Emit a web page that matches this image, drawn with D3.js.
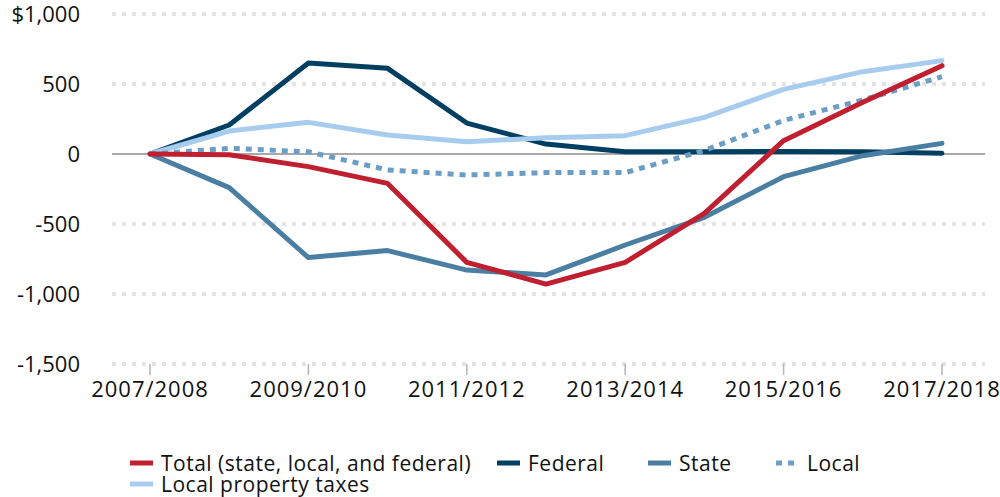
<!DOCTYPE html>
<html>
<head>
<meta charset="utf-8">
<script src="https://cdn.jsdelivr.net/npm/d3@7"></script>
<style>
  body { margin: 0; background: #fff; }
  svg text { font-family: "Open Sans", "Lato", sans-serif; fill: #111; }
</style>
</head>
<body>
<div id="chart"></div>
<script>
var years = ["2007/2008", "2008/2009", "2009/2010", "2010/2011", "2011/2012", "2012/2013",
             "2013/2014", "2014/2015", "2015/2016", "2016/2017", "2017/2018"];
var tickYears = ["2007/2008", "2009/2010", "2011/2012", "2013/2014", "2015/2016", "2017/2018"];
var yTicks = [1000, 500, 0, -500, -1000, -1500];

var total    = [0, -5, -90, -210, -774, -929, -774, -424, 95, 370, 631];
var federal  = [0, 207, 650, 612, 221, 71, 16, 16, 18, 16, 5];
var state    = [0, -240, -740, -690, -829, -864, -650, -452, -162, -12, 76];
var local    = [0, 40, 16, -114, -150, -133, -133, 25, 240, 386, 552];
var property = [0, 164, 226, 136, 88, 116, 131, 262, 462, 588, 667];

var seriesNames = ["Total (state, local, and federal)", "Federal", "State", "Local", "Local property taxes"];
var seriesColors = ["#c01f30", "#003f62", "#4a7fa3", "#6a9ec6", "#a8ccee"];

var width = 1000, height = 497;

var svg = d3.select("#chart").append("svg")
  .attr("width", width)
  .attr("height", height);

var x = d3.scalePoint()
  .domain(years)
  .range([150, 942]);

var y = d3.scaleLinear()
  .domain([-1500, 1000])
  .range([364, 14]);

// gridlines
svg.append("g")
  .selectAll("line")
  .data(yTicks.filter(function(d) { return d !== 0; }))
  .enter()
  .append("line")
    .attr("x1", 112)
    .attr("x2", 985)
    .attr("y1", function(d) { return y(d); })
    .attr("y2", function(d) { return y(d); })
    .attr("stroke", "#e3e3e3")
    .attr("stroke-width", 4)
    .attr("stroke-dasharray", "4,6");

// zero line
svg.append("line")
  .attr("x1", 112)
  .attr("x2", 985)
  .attr("y1", y(0))
  .attr("y2", y(0))
  .attr("stroke", "#8c8c8c")
  .attr("stroke-width", 1.5);

// y labels (plain hyphen like the original)
svg.append("g")
  .selectAll("text")
  .data(yTicks)
  .enter()
  .append("text")
    .attr("x", 80)
    .attr("y", function(d) { return y(d); })
    .attr("dy", "0.36em")
    .attr("text-anchor", "end")
    .style("font-size", "22px")
    .text(function(d) {
      var s = d3.format(",")(Math.abs(d));
      if (d < 0) s = "-" + s;
      return d === 1000 ? "$" + s : s;
    });

// x axis ticks + labels
var xAxis = svg.append("g");
xAxis.selectAll("line")
  .data(tickYears)
  .enter()
  .append("line")
    .attr("x1", function(d) { return x(d); })
    .attr("x2", function(d) { return x(d); })
    .attr("y1", 364)
    .attr("y2", 375)
    .attr("stroke", "#b5b5b5")
    .attr("stroke-width", 1.5);

xAxis.selectAll("text")
  .data(tickYears)
  .enter()
  .append("text")
    .attr("x", function(d) { return x(d); })
    .attr("y", 397)
    .attr("text-anchor", "middle")
    .style("font-size", "22px")
    .style("letter-spacing", "1px")
    .text(function(d) { return d; });

// lines
var line = d3.line()
  .x(function(d, i) { return x(years[i]); })
  .y(function(d) { return y(d); });

var seriesData = [federal, state, property, local, total];
var seriesIdx = [1, 2, 4, 3, 0];

svg.append("g")
  .selectAll("path")
  .data(seriesData)
  .enter()
  .append("path")
    .attr("d", line)
    .attr("fill", "none")
    .attr("stroke", function(d, i) { return seriesColors[seriesIdx[i]]; })
    .attr("stroke-width", 5)
    .attr("stroke-linejoin", "round")
    .attr("stroke-linecap", function(d, i) { return seriesIdx[i] === 3 ? "butt" : "round"; })
    .attr("stroke-dasharray", function(d, i) { return seriesIdx[i] === 3 ? "6,6" : null; });

// legend
var legendPos = [[130, 463], [497, 463], [648, 463], [776, 463], [130, 484]];
var legend = svg.append("g")
  .selectAll("g")
  .data(seriesNames)
  .enter()
  .append("g")
    .attr("transform", function(d, i) { return "translate(" + legendPos[i][0] + "," + legendPos[i][1] + ")"; });

legend.append("line")
  .attr("x1", 0)
  .attr("x2", 23)
  .attr("y1", 0)
  .attr("y2", 0)
  .attr("stroke", function(d, i) { return seriesColors[i]; })
  .attr("stroke-width", 5)
  .attr("stroke-dasharray", function(d, i) { return i === 3 ? "6,6" : null; });

legend.append("text")
  .attr("x", 31)
  .attr("y", 0)
  .attr("dy", "0.36em")
  .style("font-size", "21px")
  .style("letter-spacing", "0.5px")
  .text(function(d) { return d; });
</script>
</body>
</html>
